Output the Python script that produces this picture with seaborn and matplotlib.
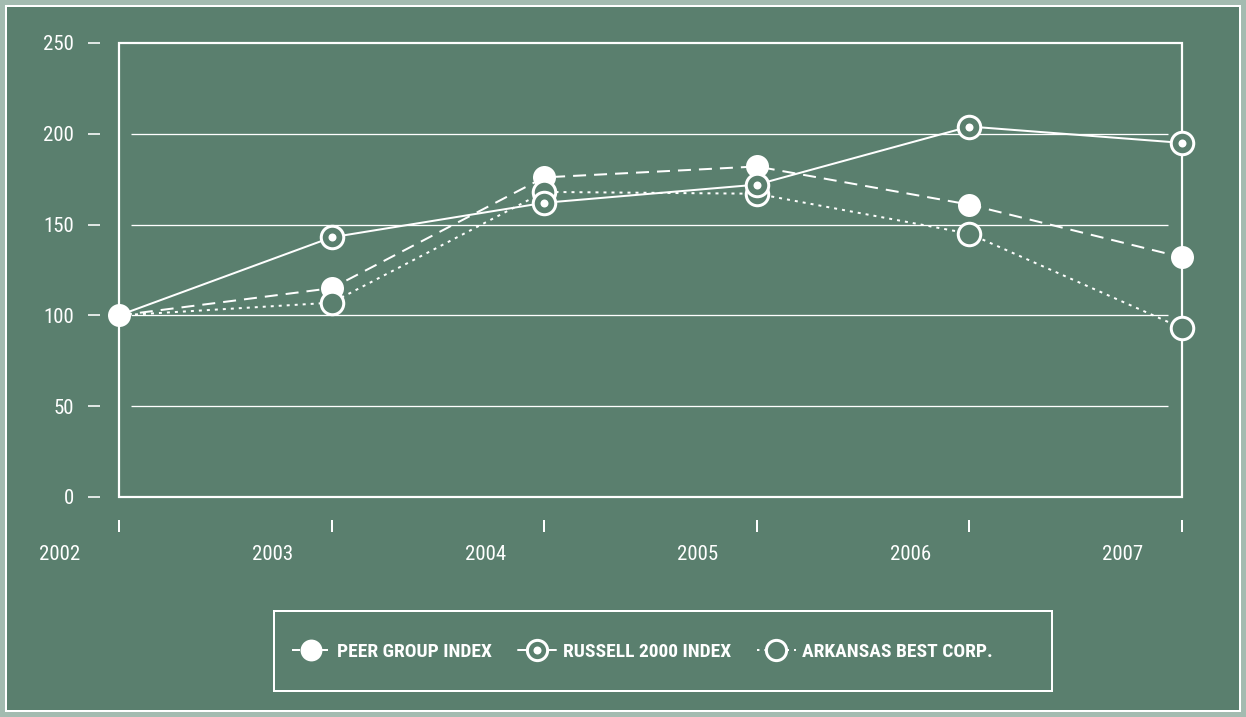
import matplotlib
matplotlib.use("Agg")
import matplotlib.pyplot as plt
import seaborn as sns
from matplotlib import font_manager as fm
from matplotlib.transforms import ScaledTranslation
from matplotlib.patches import Rectangle
from matplotlib.lines import Line2D

# ---- data ----
years = [2002, 2003, 2004, 2005, 2006, 2007]
peer_group = [100, 115, 176, 182, 161, 132]
russell_2000 = [100, 143, 162, 172, 204, 195]
arkansas_best = [100, 107, 168, 167, 145, 93]
y_ticks = [0, 50, 100, 150, 200, 250]
grid_levels = [50, 100, 150, 200]
series_names = ["PEER GROUP INDEX", "RUSSELL 2000 INDEX", "ARKANSAS BEST CORP."]

GREEN = "#5a7f6e"
PALE = "#a3bbb0"
W, H = 1246, 717
DPI = 100
PX = 72 / DPI  # points per pixel

sns.set_theme(style="white")

names = {f.name for f in fm.fontManager.ttflist}
if "Roboto Condensed" in names:
    FONT, TICK_SIZE, LEG_SIZE = "Roboto Condensed", 15, 14
elif "Liberation Sans Narrow" in names:
    FONT, TICK_SIZE, LEG_SIZE = "Liberation Sans Narrow", 16, 14
elif "Roboto" in names:
    FONT, TICK_SIZE, LEG_SIZE = "Roboto", 13, 12.5
else:
    FONT, TICK_SIZE, LEG_SIZE = "DejaVu Sans", 12, 11
plt.rcParams["font.family"] = [FONT, "DejaVu Sans"]

fig = plt.figure(figsize=(W / DPI, H / DPI), dpi=DPI, facecolor=PALE)
fig.patches.append(Rectangle((6 / W, 6 / H), 1 - 12 / W, 1 - 12 / H,
                             transform=fig.transFigure, facecolor=GREEN,
                             edgecolor="white", lw=2 * PX, zorder=-5))

ax = fig.add_axes([119 / W, 1 - 497 / H, (1182 - 119) / W, (497 - 43) / H])
ax.set_facecolor("none")

# gridlines (short of the frame)
ax.hlines(grid_levels, 0.011, 0.987, transform=ax.get_yaxis_transform(),
          colors="white", lw=1.3 * PX, zorder=1)

line_w = 2 * PX
ring_ms = 22.5 * PX
ring_mew = 3 * PX
dot_ms = 23 * PX

# Peer group: dashed line, filled dots (bottom layer)
sns.lineplot(x=years, y=peer_group, ax=ax, color="white", lw=line_w,
             linestyle=(0, (6.5, 4)), marker="o", markersize=dot_ms,
             markerfacecolor="white", markeredgewidth=0,
             clip_on=False, zorder=3, legend=False)
# Arkansas Best: dotted line, open rings
sns.lineplot(x=years, y=arkansas_best, ax=ax, color="white", lw=line_w,
             linestyle=(0, (1.5, 2.5)), marker="o", markersize=ring_ms,
             markerfacecolor=GREEN, markeredgecolor="white",
             markeredgewidth=ring_mew, markevery=slice(1, None),
             clip_on=False, zorder=4, legend=False)
# Russell 2000: solid line, ring with centre dot (top layer)
sns.lineplot(x=years, y=russell_2000, ax=ax, color="white", lw=line_w,
             linestyle="-", marker="o", markersize=ring_ms,
             markerfacecolor=GREEN, markeredgecolor="white",
             markeredgewidth=ring_mew, markevery=slice(1, None),
             clip_on=False, zorder=5, legend=False)
sns.scatterplot(x=years[1:], y=russell_2000[1:], ax=ax, color="white",
                s=(8 * PX) ** 2, linewidth=0, zorder=5.5, clip_on=False,
                legend=False)

ax.set_xlim(years[0], years[-1])
ax.set_ylim(y_ticks[0], y_ticks[-1])
ax.set_xticks(years)
ax.set_xticklabels([str(y) for y in years])
ax.set_yticks(y_ticks)
ax.set_yticklabels([str(v) for v in y_ticks])
ax.set_xlabel("")
ax.set_ylabel("")

for s in ax.spines.values():
    s.set_visible(False)
ax.spines["left"].set_position(("outward", 19 * PX))
ax.spines["bottom"].set_position(("outward", 23 * PX))
ax.add_patch(Rectangle((0, 0), 1, 1, transform=ax.transAxes, fill=False,
                       ec="white", lw=2.2 * PX, clip_on=False, zorder=2))

ax.tick_params(axis="y", left=True, direction="out", length=12 * PX,
               width=1.6 * PX, color="white", pad=14 * PX,
               labelcolor="white", labelsize=TICK_SIZE)
ax.tick_params(axis="x", bottom=True, direction="out", length=12 * PX,
               width=2 * PX, color="white", pad=13 * PX,
               labelcolor="white", labelsize=TICK_SIZE)
shift = ScaledTranslation(-59 / DPI, 0, fig.dpi_scale_trans)
for lab in ax.get_xticklabels():
    lab.set_transform(lab.get_transform() + shift)

# ---- legend ----
fig.patches.append(Rectangle((274 / W, 1 - 691 / H), (1052 - 274) / W,
                             (691 - 611) / H, transform=fig.transFigure,
                             fill=False, edgecolor="white", lw=2 * PX,
                             zorder=1))
h_peer = Line2D([], [], color="white", lw=line_w, linestyle=(0, (4, 3)),
                marker="o", markersize=dot_ms * 0.95,
                markerfacecolor="white", markeredgewidth=0)
h_rus_ring = Line2D([], [], color="white", lw=line_w, linestyle="-",
                    marker="o", markersize=ring_ms * 0.9,
                    markerfacecolor=GREEN, markeredgecolor="white",
                    markeredgewidth=ring_mew)
h_rus_dot = Line2D([], [], color="white", lw=0, marker="o",
                   markersize=8 * PX, markerfacecolor="white",
                   markeredgewidth=0)
h_ark = Line2D([], [], color="white", lw=line_w, linestyle=(0, (1.2, 2.5)),
               marker="o", markersize=ring_ms * 0.9,
               markerfacecolor=GREEN, markeredgecolor="white",
               markeredgewidth=ring_mew)
leg = fig.legend([h_peer, (h_rus_ring, h_rus_dot), h_ark], series_names,
                 loc="center left", bbox_to_anchor=(282 / W, 1 - 652 / H),
                 bbox_transform=fig.transFigure, ncol=3, frameon=False,
                 handlelength=2.0, handletextpad=0.35, columnspacing=1.3,
                 borderpad=0, labelcolor="white",
                 prop=fm.FontProperties(family=[FONT, "DejaVu Sans"],
                                        weight="bold", size=LEG_SIZE))

fig.savefig("out.png", dpi=DPI, facecolor=fig.get_facecolor())
